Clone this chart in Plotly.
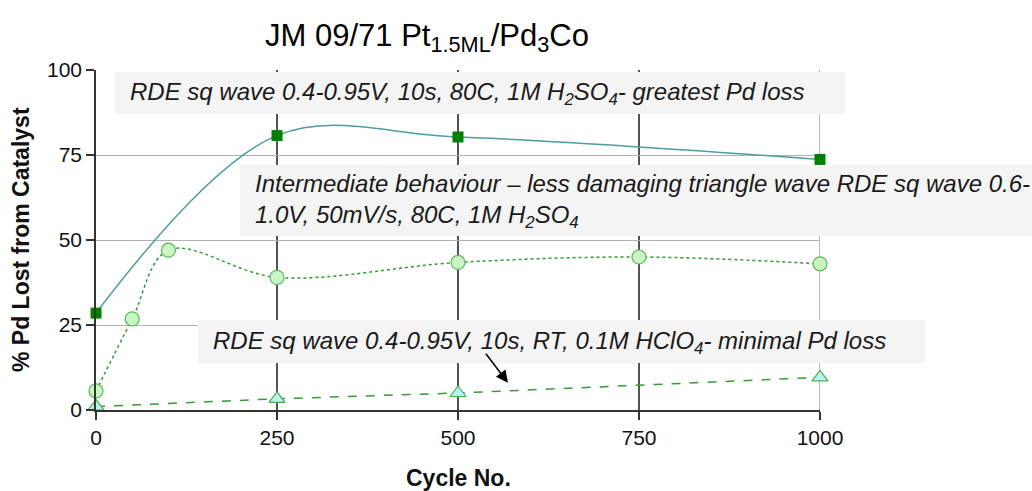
import plotly.graph_objects as go

# Data
cycles_sq80 = [0, 250, 500, 1000]
loss_sq80 = [28.5, 80.7, 80.3, 73.7]

cycles_tri = [0, 50, 100, 250, 500, 750, 1000]
loss_tri = [5.6, 26.8, 47.0, 39.0, 43.4, 45.0, 43.0]

cycles_rt = [0, 250, 500, 1000]
loss_rt = [1.0, 3.3, 5.0, 9.6]

x_ticks = [0, 250, 500, 750, 1000]
y_ticks = [0, 25, 50, 75, 100]

title_text = "JM 09/71 Pt<sub>1.5ML</sub>/Pd<sub>3</sub>Co"
note_sq80 = "RDE sq wave 0.4-0.95V, 10s, 80C, 1M H<sub>2</sub>SO<sub>4</sub>- greatest Pd loss"
note_tri = ("Intermediate behaviour \u2013 less damaging triangle wave RDE sq wave 0.6-<br>"
            "1.0V, 50mV/s, 80C, 1M H<sub>2</sub>SO<sub>4</sub>")
note_rt = "RDE sq wave 0.4-0.95V, 10s, RT, 0.1M HClO<sub>4</sub>- minimal Pd loss"

FONT = "Liberation Sans, Arial, sans-serif"

# plot area in pixels (for placing layout boxes)
L, R, T, B = 96, 820, 70, 410
def px(xp):
    return (xp - L) / (R - L)
def py(yp):
    return (B - yp) / (B - T)

fig = go.Figure()

fig.add_trace(go.Scatter(
    x=cycles_sq80, y=loss_sq80, mode="lines+markers", cliponaxis=False,
    line=dict(color="#4f9c9e", width=1.5, shape="spline", smoothing=1.0),
    marker=dict(symbol="square", size=11, color="#008000", line=dict(width=0)),
    showlegend=False))

fig.add_trace(go.Scatter(
    x=cycles_tri, y=loss_tri, mode="lines+markers", cliponaxis=False,
    line=dict(color="#2f9a2f", width=1.5, dash="dot", shape="spline", smoothing=1.0),
    marker=dict(symbol="circle", size=14, color="#c9f5c3", line=dict(width=1.2, color="#5cb85c")),
    showlegend=False))

fig.add_trace(go.Scatter(
    x=cycles_rt, y=loss_rt, mode="lines+markers", cliponaxis=False,
    line=dict(color="#3a9a3a", width=1.5, dash="dash"),
    marker=dict(symbol="triangle-up", size=14, color="#b9f2ee", line=dict(width=1.2, color="#4caf50")),
    showlegend=False))

shapes = []
# Dark vertical gridlines at the interior ticks, grey at the right edge
for xv in x_ticks[1:]:
    shapes.append(dict(type="line", xref="x", yref="paper", x0=xv, x1=xv, y0=0, y1=1,
                       line=dict(color="#1a1a1a" if xv < x_ticks[-1] else "#a0a0a0", width=1.5),
                       layer="below"))
# Note boxes
boxes = [(115, 72, 845, 114), (240, 165, 1032, 236), (198, 320, 925, 363)]
for x0, y0, x1, y1 in boxes:
    shapes.append(dict(type="rect", xref="paper", yref="paper",
                       x0=px(x0), x1=px(x1), y0=py(y1), y1=py(y0),
                       fillcolor="#f4f4f4", line=dict(width=0), layer="above"))

note_font = dict(family=FONT, size=24, color="#1a1a1a", style="italic")
annotations = [
    dict(text=note_sq80, xref="paper", yref="paper", x=px(128), y=py(93),
         xanchor="left", yanchor="middle", showarrow=False, align="left", font=note_font),
    dict(text=note_tri, xref="paper", yref="paper", x=px(253), y=py(201),
         xanchor="left", yanchor="middle", showarrow=False, align="left", font=note_font),
    dict(text=note_rt, xref="paper", yref="paper", x=px(211), y=py(342),
         xanchor="left", yanchor="middle", showarrow=False, align="left", font=note_font),
    dict(text="", x=569, y=8.0, xref="x", yref="y", ax=537, ay=17.0, axref="x", ayref="y",
         showarrow=True, arrowhead=2, arrowsize=1.6, arrowwidth=1.5, arrowcolor="#000000"),
    # axis titles placed explicitly
    dict(text="<b>Cycle No.</b>", xref="paper", yref="paper", x=0.5, y=py(478),
         xanchor="center", yanchor="middle", showarrow=False,
         font=dict(family=FONT, size=23, color="#111111")),
    dict(text="<b>% Pd Lost from Catalyst</b>", xref="paper", yref="paper", x=px(21), y=0.5,
         xanchor="center", yanchor="middle", showarrow=False, textangle=-90,
         font=dict(family=FONT, size=23, color="#111111")),
]

fig.update_layout(
    width=1032, height=491,
    margin=dict(l=L, r=1032 - R, t=T, b=491 - B),
    paper_bgcolor="white", plot_bgcolor="white",
    font=dict(family=FONT, color="#1a1a1a"),
    title=dict(text=title_text, x=427 / 1032, xanchor="center", xref="container",
               y=1 - 35 / 491, yanchor="middle", yref="container",
               font=dict(size=31, color="#000000", family=FONT)),
    xaxis=dict(range=[0, 1000], tickvals=x_ticks, showgrid=False, zeroline=False,
               showline=True, linecolor="#333333", linewidth=1.5, automargin=False,
               ticks="outside", ticklen=8, tickcolor="#333333", tickwidth=1.5,
               tickfont=dict(size=21, color="#111111")),
    yaxis=dict(range=[0, 100], tickvals=y_ticks, showgrid=True, gridcolor="#b0b0b0", gridwidth=1,
               zeroline=False, showline=True, linecolor="#333333", linewidth=1.5, automargin=False,
               ticks="outside", ticklen=8, tickcolor="#333333", tickwidth=1.5,
               tickfont=dict(size=21, color="#111111")),
    shapes=shapes,
    annotations=annotations,
)

fig.write_html("out.html")
